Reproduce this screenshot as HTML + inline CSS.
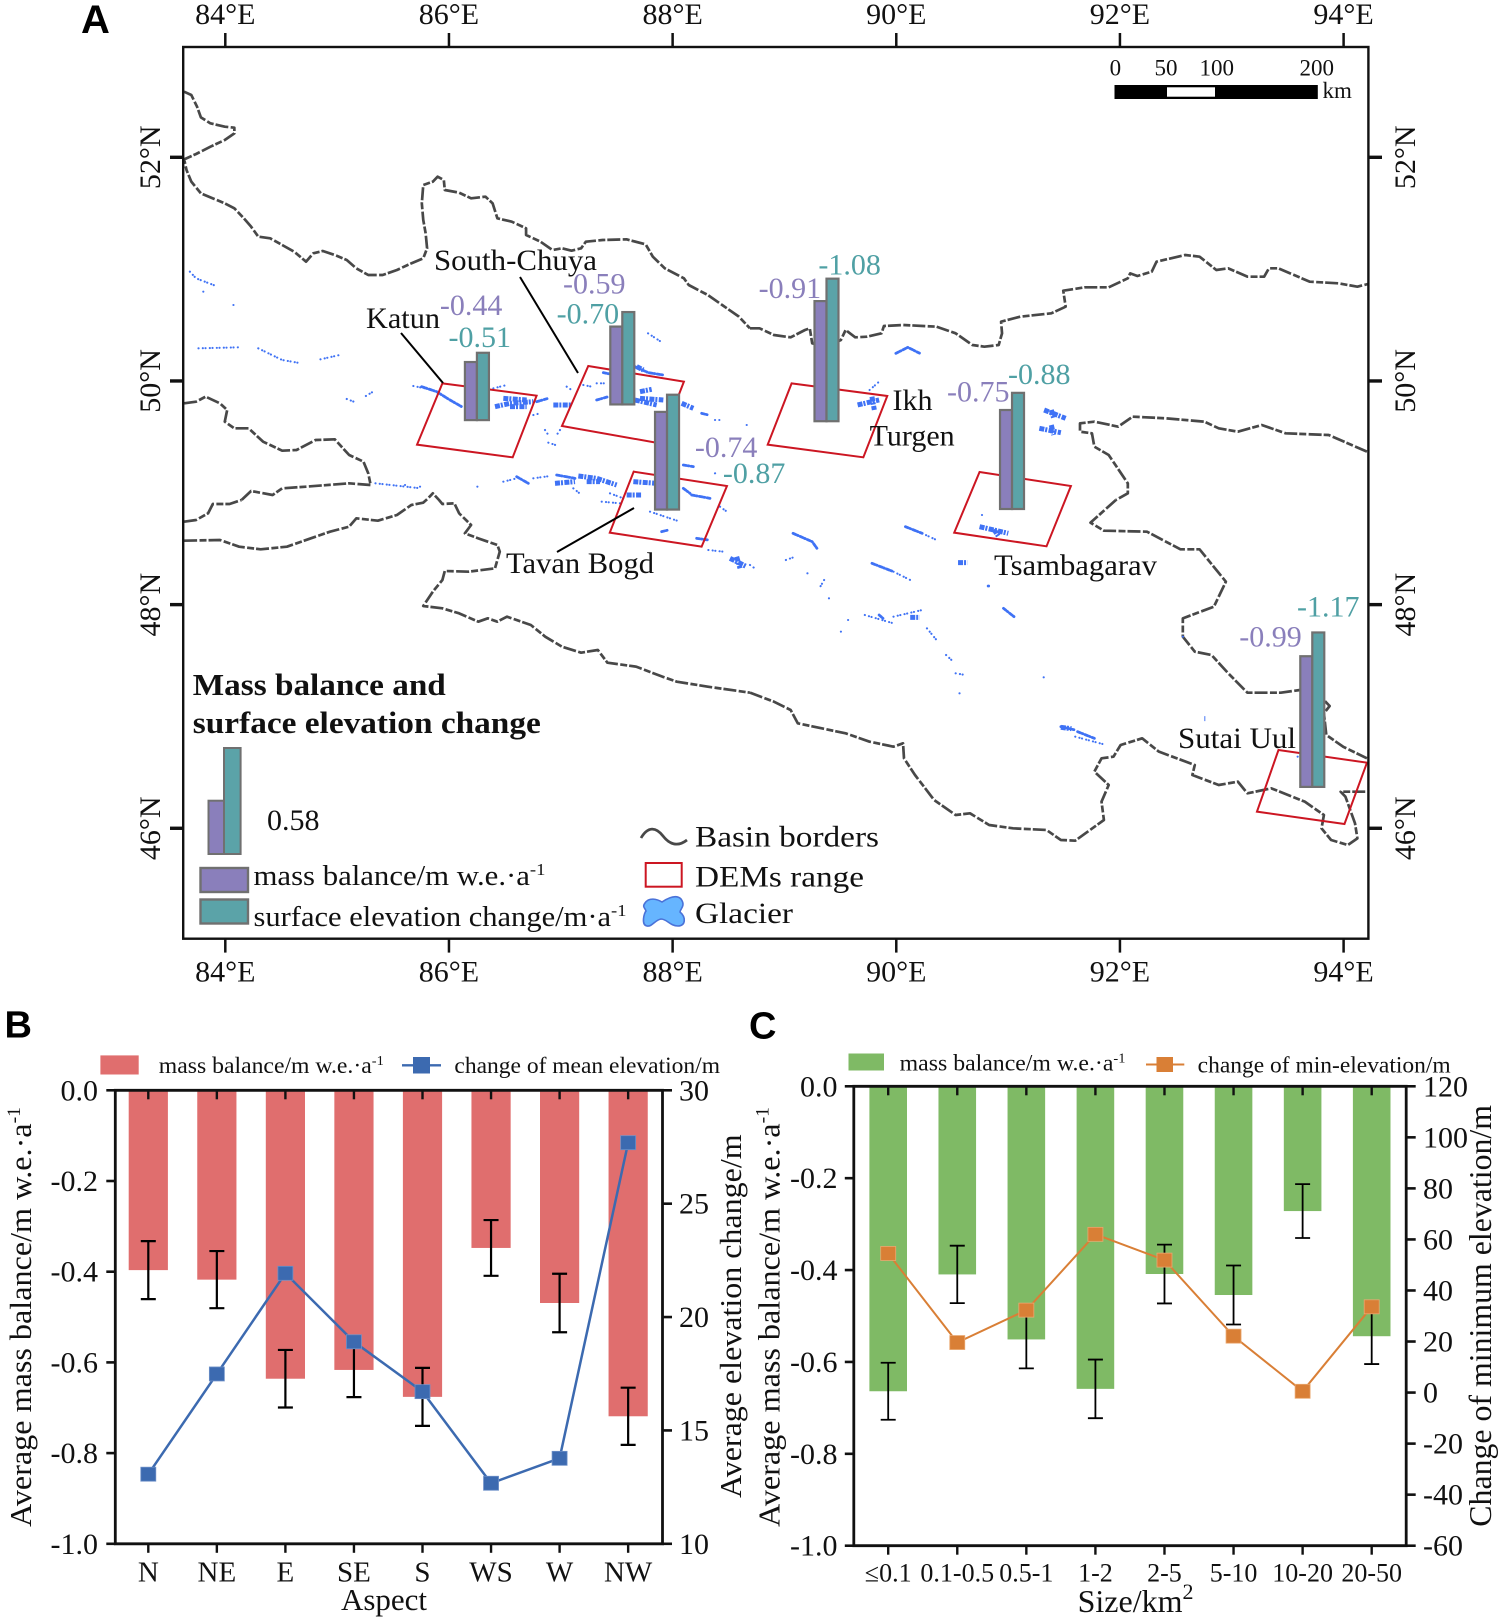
<!DOCTYPE html>
<html lang="en">
<head>
<meta charset="utf-8">
<title>Glacier mass balance and surface elevation change</title>
<style>
html,body{margin:0;padding:0;background:#fff;}
svg{display:block;}
text{font-family:"Liberation Serif",serif;fill:#111;}
.lbl{font-family:"Liberation Sans",sans-serif;font-weight:bold;font-size:40px;fill:#000;}
.border{fill:none;stroke:#484848;stroke-width:2.7;stroke-dasharray:13 2.4 7 2;vector-effect:non-scaling-stroke;stroke-linejoin:round;}
.gd{fill:none;stroke:#3f72f5;stroke-width:2.1;stroke-dasharray:0.1 4.2 0.1 2.6;stroke-linecap:round;vector-effect:non-scaling-stroke;}
.gt{fill:none;stroke:#3f72f5;stroke-width:2.8;stroke-dasharray:3 1.6 1 2.2;stroke-linecap:round;stroke-linejoin:round;vector-effect:non-scaling-stroke;}
.gb{fill:none;stroke:#3f72f5;stroke-width:5;stroke-dasharray:5 1 2 1.4;stroke-linejoin:round;vector-effect:non-scaling-stroke;}
.quad{fill:none;stroke:#cc1622;stroke-width:2;vector-effect:non-scaling-stroke;}
.lead{stroke:#000;stroke-width:2;fill:none;vector-effect:non-scaling-stroke;}
</style>
</head>
<body>
<svg id="fig" xmlns="http://www.w3.org/2000/svg" width="1500" height="1621" viewBox="0 0 1500 1621">
<rect width="1500" height="1621" fill="#fff"/>

<g id="panel-a">
<text class="lbl" x="81" y="33">A</text>

<!-- Basin borders, upper-left tile -->
<g transform="scale(.47826,.33333)">
<polyline class="border" points="385,275 400,285 412,320 420,352 440,370 470,380 490,383 490,400 470,420 440,440 410,462 385,478 390,510 400,545 420,580 445,595 470,610 490,625 510,655 525,680 540,710 565,715 590,735 615,755 640,785 655,760 675,753 700,765 725,780 745,805 770,825 800,825 830,810 860,790 885,775 893,745 890,700 885,660 882,610 885,555 905,545 915,530 928,540 930,570 960,578 985,595 1015,590 1030,610 1040,655 1070,665 1100,685 1100,705 1130,725 1155,750 1175,745 1195,752 1215,745 1225,725 1260,720 1310,718 1350,733 1365,770 1390,805 1430,835 1440,855 1480,885 1510,915 1545,950 1568,985"/>
<polyline class="border" points="385,1210 410,1205 430,1190 460,1210 475,1230 470,1265 490,1285 520,1285 550,1325 590,1352 620,1350 660,1320 700,1318 730,1365 760,1385 770,1420 775,1455 730,1450 640,1460 590,1465 570,1485 525,1473 505,1500"/>
</g>
<!-- Basin borders, upper-right tile -->
<g transform="translate(750,0) scale(.47826,.33333)">
<polyline class="border" points="0,985 20,985 50,1005 85,1012 115,990 125,985 130,1030 160,1040 190,1020 200,990 220,1012 245,1010 275,1000 280,978 320,975 390,980 430,1000 465,1035 490,1040 520,1035 527,1000 525,965 565,950 630,940 660,920 655,872 700,862 750,862 790,835 795,820 810,828 840,815 850,785 910,765 940,770 975,810 1000,805 1040,830 1075,830 1085,805 1105,805 1170,845 1230,850 1270,860 1292,852"/>
<polyline class="border" points="1290,1355 1210,1305 1120,1300 1070,1275 1020,1295 980,1285 950,1265 870,1255 800,1250 770,1280 720,1265 690,1270 690,1295 715,1300 720,1340 750,1365 790,1450 790,1480 765,1500"/>
</g>
<!-- Basin borders, lower-left tile -->
<g transform="translate(0,500) scale(.47826,.33333)">
<polyline class="border" points="385,65 410,60 435,40 445,12 480,12 505,0"/>
<polyline class="border" points="385,122 460,120 500,140 545,148 600,140 650,115 690,95 730,80 745,55 790,62 830,45 860,15 885,8 895,-5 905,-20 918,0 925,12 950,10 960,40 985,75 972,100 1000,115 1040,135 1045,155 1035,205 980,215 930,213 925,240 905,275 885,318 925,325 960,340 1000,365 1020,355 1040,365 1060,350 1110,375 1140,410 1175,440 1215,458 1250,450 1270,488 1330,500 1385,530 1415,545 1480,560 1568,578"/>
</g>
<!-- Basin borders, lower-right tile -->
<g transform="translate(750,500) scale(.47826,.33333)">
<polyline class="border" points="0,578 50,605 85,630 100,670 150,685 200,700 250,725 300,740 320,730 322,775 345,825 385,900 430,945 460,940 500,975 550,985 620,990 650,1020 680,1022 740,960 735,905 750,855 720,815 735,775 760,770 775,735 820,715 855,755 930,795 925,825 980,855 1020,845 1040,880 1090,865 1160,905 1200,945 1195,985 1215,1020 1250,1035 1270,1015 1265,970 1245,890 1235,875 1290,875"/>
<polyline class="border" points="765,0 712,68 740,92 830,95 900,148 940,148 995,245 970,320 905,355 905,410 930,455 965,465 1000,520 1040,578 1110,578 1150,570 1200,600 1212,618 1200,640 1205,705 1240,740 1290,775"/>
</g>

<!-- Glaciers -->
<g transform="scale(.47826,.33333)">
<path class="gd" d="M397,815L410,835L450,857M488,915l1,0M425,875l1,0M415,1045L500,1042M540,1045L590,1080L630,1090M670,1078L710,1065M725,1197L745,1208M765,1188L780,1175M1355,1000L1385,1028M785,1450L880,1465"/>
</g>
<g transform="translate(400,350) scale(.33333)">
<path class="gd" d="M40,108L90,118M280,115L320,105M400,195L420,190M435,240L445,255M480,240L470,255M445,278L475,288M500,110L515,120M550,105L575,110M590,100L615,100M945,210L965,210M1040,225L1050,225M310,395L350,385M400,385L450,378M520,415L545,435M605,455L660,460M630,430L670,445M750,485L840,515M925,600L970,605M960,470L985,488M15,405l10,0M60,410l10,0M232,410l1,0M945,370l5,-2"/>
<path class="gt" d="M65,110L110,125L150,150L185,170M410,155L445,145M590,150L625,140M610,68L630,72M705,50L745,68L790,75M905,190L925,195M350,380L385,400M470,375L525,385M850,415L870,430M875,435L930,445M785,545L805,540M890,565L925,570M850,345L880,350"/>
<path class="gb" d="M285,170L330,160L400,155M310,145L380,150M330,170L380,170M460,165L515,165M710,50L730,60M720,125L755,118M705,150L770,165M720,145L790,150M845,160L880,175M465,400L525,395M535,378L590,385L650,405M560,395L600,395M680,435L725,435M700,395L770,400M990,625L1040,650M1010,620L1020,655"/>
</g>
<g transform="translate(750,500) scale(.47826,.33333)">
<path class="gd" d="M0,195L10,205M75,180L95,170M120,220l1,0M155,240L145,265M165,295l1,0M205,360l1,0M190,395l1,0M240,345L300,370M300,350L360,330M370,385L390,420M410,465L425,485M430,520L450,525M438,580l1,0M485,45l1,0M614,532l1,0M905,410l5,0M1145,770l1,0M680,710L745,735M360,100L390,120M300,215L335,240"/>
<path class="gt" d="M90,100L130,125L140,145M325,80L360,100M255,190L300,215M270,345l8,10M530,325L552,350M650,680L680,690M685,695L720,715M498,258l1,0"/>
<path class="gb" d="M480,80L540,100M510,88L520,110M435,188L455,188M335,352L355,352M650,682L672,686M950,656l2,0"/>
</g>
<g transform="translate(750,0) scale(.47826,.33333)">
<path class="gt" d="M305,1060L330,1042L355,1060"/>
<path class="gd" d="M250,1170L270,1145"/>
<path class="gb" d="M225,1215L270,1200M255,1190L260,1230M615,1230L660,1255M630,1230L635,1255M605,1285L650,1298M630,1275L635,1305"/>
</g>

<!-- DEM ranges -->
<g transform="scale(.47826,.33333)">
<polygon class="quad" points="925,1150 1122,1187 1072,1372 872,1334"/>
<polygon class="quad" points="1230,1098 1430,1145 1380,1330 1175,1278"/>
<polygon class="quad" points="1325,1415 1520,1458 1467,1640 1275,1598"/>
</g>
<g transform="translate(750,0) scale(.47826,.33333)">
<polygon class="quad" points="87,1150 287,1188 237,1372 37,1334"/>
<polygon class="quad" points="480,1416 671,1458 620,1639 427,1598"/>
</g>
<g transform="translate(750,500) scale(.47826,.33333)">
<polygon class="quad" points="1105,750 1290,788 1243,972 1060,935"/>
</g>

<!-- Leader lines -->
<line class="lead" x1="401" y1="333" x2="443" y2="383"/>
<line class="lead" x1="520" y1="277" x2="578" y2="373"/>
<line class="lead" x1="634" y1="508" x2="557" y2="552"/>

<!-- Map frame -->
<rect x="183.2" y="47" width="1185.2" height="891.7" fill="none" stroke="#111" stroke-width="2.4"/>
<g id="map-axes"></g>
<g id="map-bars"></g>

<!-- Region labels -->
<text x="366" y="328" font-size="30" textLength="74" lengthAdjust="spacingAndGlyphs">Katun</text>
<text x="434" y="270" font-size="30" textLength="163" lengthAdjust="spacingAndGlyphs">South-Chuya</text>
<text x="892.5" y="410" font-size="30">Ikh</text>
<text x="869.6" y="445.7" font-size="30">Turgen</text>
<text x="506" y="573" font-size="30" textLength="148" lengthAdjust="spacingAndGlyphs">Tavan Bogd</text>
<text x="994" y="575" font-size="30" textLength="163" lengthAdjust="spacingAndGlyphs">Tsambagarav</text>
<text x="1178" y="748" font-size="30" textLength="118" lengthAdjust="spacingAndGlyphs">Sutai Uul</text>

<!-- Scale bar -->
<g>
<rect x="1114.5" y="85" width="203.3" height="14" fill="#000"/>
<rect x="1167" y="87.3" width="48" height="9.4" fill="#fff"/>
<text x="1115.4" y="75.3" font-size="23" text-anchor="middle">0</text>
<text x="1166" y="75.3" font-size="23" text-anchor="middle">50</text>
<text x="1216.8" y="75.3" font-size="23" text-anchor="middle">100</text>
<text x="1316.8" y="75.3" font-size="23" text-anchor="middle">200</text>
<text x="1322.5" y="98" font-size="23">km</text>
</g>

<!-- Map legend -->
<g>
<text x="192.8" y="695" font-size="31" font-weight="bold" textLength="253" lengthAdjust="spacingAndGlyphs">Mass balance and</text>
<text x="192.8" y="733" font-size="31" font-weight="bold" textLength="348" lengthAdjust="spacingAndGlyphs">surface elevation change</text>
<rect x="208.5" y="800.7" width="15.5" height="53.3" fill="#8a7fbb" stroke="#707070" stroke-width="2"/>
<rect x="224" y="748" width="16.6" height="106" fill="#5ba3a8" stroke="#707070" stroke-width="2"/>
<text x="267" y="830" font-size="30">0.58</text>
<rect x="200.5" y="868" width="47.5" height="24" fill="#8a7fbb" stroke="#707070" stroke-width="2.4"/>
<rect x="200.5" y="899.5" width="47.5" height="24" fill="#5ba3a8" stroke="#707070" stroke-width="2.4"/>
<text x="253.5" y="885" font-size="28" textLength="292" lengthAdjust="spacingAndGlyphs">mass balance/m w.e.·a<tspan dy="-10" font-size="17">-1</tspan></text>
<text x="253.5" y="926" font-size="28" textLength="373" lengthAdjust="spacingAndGlyphs">surface elevation change/m·a<tspan dy="-10" font-size="17">-1</tspan></text>
<path d="M641,838 C648,826 656,827 663,836 C670,845 678,847 687,840" fill="none" stroke="#484848" stroke-width="2.7"/>
<text x="695" y="846.7" font-size="30" textLength="184" lengthAdjust="spacingAndGlyphs">Basin borders</text>
<rect x="645.7" y="863" width="36" height="23.7" fill="none" stroke="#cc1622" stroke-width="2"/>
<text x="695" y="886.7" font-size="30" textLength="169" lengthAdjust="spacingAndGlyphs">DEMs range</text>
<path d="M645,903 C649,897 657,899 662,902 C668,898 676,894 681,899 C686,906 680,909 680,912 C686,917 686,926 678,926 C670,926 667,919 661,919 C655,920 652,927 647,926 C641,925 644,913 646,911 C645,908 642,907 645,903 Z" fill="#66b5ff" stroke="#4a72d8" stroke-width="1.6"/>
<text x="695" y="923" font-size="30" textLength="98" lengthAdjust="spacingAndGlyphs">Glacier</text>
</g>
</g>

<!-- Panel B -->
<g id="panel-b">
<text class="lbl" x="4.5" y="1037.6" style="font-size:38px">B</text>
<rect x="100.4" y="1055.4" width="38.3" height="19.1" fill="#e06e6e"/>
<text x="158.8" y="1073" font-size="23" textLength="225" lengthAdjust="spacingAndGlyphs">mass balance/m w.e.·a<tspan dy="-8" font-size="14">-1</tspan></text>
<line x1="402" y1="1065.3" x2="441" y2="1065.3" stroke="#3c6ab0" stroke-width="2.4"/>
<rect x="413" y="1057" width="17" height="16.5" fill="#3c6ab0"/>
<text x="454.4" y="1073" font-size="23" textLength="265.6" lengthAdjust="spacingAndGlyphs">change of mean elevation/m</text>
<text transform="translate(31,1527) rotate(-90)" font-size="31" textLength="420" lengthAdjust="spacingAndGlyphs">Average mass balance/m w.e.·a<tspan dy="-11" font-size="19">-1</tspan></text>
<text transform="translate(741,1498) rotate(-90)" font-size="31" textLength="363.6" lengthAdjust="spacingAndGlyphs">Average elevation change/m</text>
<text x="384" y="1610" font-size="31" text-anchor="middle">Aspect</text>
</g>

<!-- Panel C -->
<g id="panel-c">
<text class="lbl" x="749" y="1038.4" style="font-size:38px">C</text>
<rect x="848.5" y="1053.5" width="35.5" height="17" fill="#7fba65"/>
<text x="899.7" y="1070.5" font-size="23" textLength="225.8" lengthAdjust="spacingAndGlyphs">mass balance/m w.e.·a<tspan dy="-8" font-size="14">-1</tspan></text>
<line x1="1146" y1="1064.5" x2="1184.3" y2="1064.5" stroke="#d97f36" stroke-width="2"/>
<rect x="1156.5" y="1057" width="16.5" height="15" fill="#d97f36"/>
<text x="1197.7" y="1072.5" font-size="23" textLength="253" lengthAdjust="spacingAndGlyphs">change of min-elevation/m</text>
<text transform="translate(779.7,1527) rotate(-90)" font-size="31" textLength="420" lengthAdjust="spacingAndGlyphs">Average mass balance/m w.e.·a<tspan dy="-11" font-size="19">-1</tspan></text>
<text transform="translate(1491,1526.7) rotate(-90)" font-size="32" textLength="421.7" lengthAdjust="spacingAndGlyphs">Change of minimum elevation/m</text>
<text x="1077.6" y="1612" font-size="32">Size/km<tspan dy="-13" font-size="22">2</tspan></text>
</g>
</svg>

<script>
// ---------- Panel A data ----------
const mapLonTicks = [84, 86, 88, 90, 92, 94];
const mapLatTicks = [52, 50, 48, 46];
const regionNames = ['Katun', 'South-Chuya', 'Tavan Bogd', 'Ikh Turgen', 'Tsambagarav', 'Sutai Uul'];
const regionLon = [86.25, 87.55, 87.95, 89.376, 91.035, 93.72];
const regionLat = [49.65, 49.79, 48.85, 49.64, 48.855, 46.37];
const regionMassBalance = [-0.44, -0.59, -0.74, -0.91, -0.75, -0.99];
const regionElevationChange = [-0.51, -0.70, -0.87, -1.08, -0.88, -1.17];

// ---------- Panel B data ----------
const aspectCategories = ['N', 'NE', 'E', 'SE', 'S', 'WS', 'W', 'NW'];
const aspectMassBalance = [-0.3965, -0.4175, -0.636, -0.6166, -0.676, -0.3476, -0.469, -0.7188];
const aspectMassError = [0.064, 0.063, 0.0635, 0.06, 0.064, 0.0615, 0.0645, 0.063];
const aspectElevationChange = [13.07, 17.49, 21.93, 18.91, 16.71, 12.67, 13.77, 27.69];
const aspectLeftTicks = [0, -0.2, -0.4, -0.6, -0.8, -1.0];
const aspectRightTicks = [30, 25, 20, 15, 10];

// ---------- Panel C data ----------
const sizeCategories = ['≤0.1', '0.1-0.5', '0.5-1', '1-2', '2-5', '5-10', '10-20', '20-50'];
const sizeMassBalance = [-0.6638, -0.4095, -0.551, -0.6586, -0.4086, -0.4543, -0.2716, -0.544];
const sizeMassError = [0.062, 0.0625, 0.063, 0.0638, 0.064, 0.0642, 0.0586, 0.0606];
const sizeMinElevation = [54.5, 19.6, 32.3, 62, 51.9, 22.1, 0.5, 33.6];
const sizeLeftTicks = [0, -0.2, -0.4, -0.6, -0.8, -1.0];
const sizeRightTicks = [120, 100, 80, 60, 40, 20, 0, -20, -40, -60];

const NS = 'http://www.w3.org/2000/svg';
function mk(tag, attrs, parent) {
  const el = document.createElementNS(NS, tag);
  for (const k in attrs) el.setAttribute(k, attrs[k]);
  parent.appendChild(el);
  return el;
}

// ---------- Map axis functions ----------
function mapX(lon) { return 225.3 + (lon - 84) * 111.83; }
function mapY(lat) { return 157.3 + (52 - lat) * 111.83; }
function mapBarHeight(v) { return Math.abs(v) * 132; }

const mapAxes = document.getElementById('map-axes');
mapLonTicks.forEach(function (lon) {
  const x = mapX(lon);
  const t1 = mk('line', {x1: x, x2: x, y1: 33, y2: 47, stroke: '#111', 'stroke-width': 2.5}, mapAxes);
  
  
  const t2 = mk('line', {x1: x, x2: x, y1: 939, y2: 952.6, stroke: '#111', 'stroke-width': 2.5}, mapAxes);
  
  
  const l1 = mk('text', {x: x, y: 24, 'font-size': 30, 'text-anchor': 'middle'}, mapAxes);
  l1.textContent = lon + '°E';
  
  
  const l2 = mk('text', {x: x, y: 981.7, 'font-size': 30, 'text-anchor': 'middle'}, mapAxes);
  l2.textContent = lon + '°E';
  
  
});
mapLatTicks.forEach(function (lat) {
  const y = mapY(lat);
  const t1 = mk('line', {x1: 170, x2: 183, y1: y, y2: y, stroke: '#111', 'stroke-width': 3.4}, mapAxes);
  
  
  const t2 = mk('line', {x1: 1368, x2: 1382, y1: y, y2: y, stroke: '#111', 'stroke-width': 3.4}, mapAxes);
  
  
  const l1 = mk('text', {transform: 'translate(160,' + y + ') rotate(-90)', 'font-size': 30, 'text-anchor': 'middle'}, mapAxes);
  l1.textContent = lat + '°N';
  
  
  const l2 = mk('text', {transform: 'translate(1415,' + y + ') rotate(-90)', 'font-size': 30, 'text-anchor': 'middle'}, mapAxes);
  l2.textContent = lat + '°N';
  
  
});

// Value-label offsets relative to each bar top (layout only)
const massLabelOffset = [[-37, -46.9], [-59.3, -33.1], [27.8, 45.1], [-67.9, -2.9], [-65, -8.3], [-73, -9.9]];
const elevLabelOffset = [[-28.4, -5.7], [-65.7, 11.4], [55.8, 88.5], [-8.1, -4.4], [-4, -8.8], [-15.3, -15.9]];
const mapBars = document.getElementById('map-bars');
regionNames.forEach(function (name, i) {
  const sx = mapX(regionLon[i]);
  const base = mapY(regionLat[i]);
  const hm = mapBarHeight(regionMassBalance[i]);
  const he = mapBarHeight(regionElevationChange[i]);
  const m = mk('rect', {x: sx - 12, y: base - hm, width: 12, height: hm, fill: '#8a7fbb', stroke: '#707070', 'stroke-width': 2.2}, mapBars);
  
  
  const e = mk('rect', {x: sx, y: base - he, width: 12, height: he, fill: '#5ba3a8', stroke: '#707070', 'stroke-width': 2.2}, mapBars);
  
  
  const ml = mk('text', {x: sx + massLabelOffset[i][0], y: base - hm + massLabelOffset[i][1], 'font-size': 30, style: 'fill:#8a7fbb'}, mapBars);
  ml.textContent = regionMassBalance[i].toFixed(2);
  
  
  const el = mk('text', {x: sx + elevLabelOffset[i][0], y: base - he + elevLabelOffset[i][1], 'font-size': 30, style: 'fill:#4fa0a4'}, mapBars);
  el.textContent = regionElevationChange[i].toFixed(2);
  
  
});

// ---------- Combo chart drawing ----------
function drawCombo(root, box, rightMin, rightMax, leftTicks, rightTicks, cats, massVals, errs, lineVals, style) {
  const xPos = function (i) { return box.x0 + box.step * i; };
  const yLeft = function (v) { return box.top + (-v) * (box.bottom - box.top); };
  const yRight = function (v) { return box.bottom - (v - rightMin) / (rightMax - rightMin) * (box.bottom - box.top); };

  cats.forEach(function (c, i) {
    const top = yLeft(0);
    const r = mk('rect', {x: xPos(i) - box.barW / 2, y: top, width: box.barW, height: yLeft(massVals[i]) - top, fill: style.bar}, root);
    
    
  });

  const frame = mk('path', {d: 'M' + box.left + ',' + box.top + 'H' + box.right + 'V' + box.bottom + 'H' + box.left + 'Z', fill: 'none', stroke: '#111', 'stroke-width': 2.8}, root);
  
  

  leftTicks.forEach(function (v) {
    const y = yLeft(v);
    const t = mk('line', {x1: box.left - 9, x2: box.left, y1: y, y2: y, stroke: '#111', 'stroke-width': 2.6}, root);
    
    
    const l = mk('text', {x: box.leftLabelX, y: y + 10, 'font-size': 30, 'text-anchor': 'end'}, root);
    l.textContent = v.toFixed(1);
    
    
  });
  rightTicks.forEach(function (v) {
    const y = yRight(v);
    const t = mk('line', {x1: box.right, x2: box.right + 9.5, y1: y, y2: y, stroke: '#111', 'stroke-width': 2.6}, root);
    
    
    const l = mk('text', {x: box.rightLabelX, y: y + 10, 'font-size': 30}, root);
    l.textContent = String(v);
    
    
  });
  cats.forEach(function (c, i) {
    const x = xPos(i);
    const t1 = mk('line', {x1: x, x2: x, y1: box.top, y2: box.top + 9, stroke: '#111', 'stroke-width': 2.4}, root);
    
    
    const t2 = mk('line', {x1: x, x2: x, y1: box.bottom, y2: box.bottom + 9, stroke: '#111', 'stroke-width': 2.4}, root);
    
    
    const l = mk('text', {x: x, y: 1581.4, 'font-size': box.catFont, 'text-anchor': 'middle'}, root);
    l.textContent = c;
    
    

    const y1 = yLeft(massVals[i] + errs[i]);
    const y2 = yLeft(massVals[i] - errs[i]);
    const eb = mk('path', {d: 'M' + x + ',' + y1 + 'V' + y2 + 'M' + (x - 7.5) + ',' + y1 + 'h15M' + (x - 7.5) + ',' + y2 + 'h15', fill: 'none', stroke: '#000', 'stroke-width': box.errW}, root);
    
    
  });

  const pts = lineVals.map(function (v, i) { return xPos(i) + ',' + yRight(v); }).join(' ');
  const line = mk('polyline', {points: pts, fill: 'none', stroke: style.line, 'stroke-width': box.lineW}, root);
  
  
  lineVals.forEach(function (v, i) {
    const p = mk('rect', {x: xPos(i) - 7.5, y: yRight(v) - 7, width: 15, height: 14, fill: style.line, stroke: style.edge, 'stroke-width': 0.8}, root);
    
    
  });
}

drawCombo(document.getElementById('panel-b'),
  {left: 115.3, right: 662.5, top: 1090.3, bottom: 1543.8, x0: 148.3, step: 68.55, barW: 39.2, leftLabelX: 98, rightLabelX: 679, catFont: 29, errW: 2.2, lineW: 2.5},
  10, 30, aspectLeftTicks, aspectRightTicks, aspectCategories, aspectMassBalance, aspectMassError, aspectElevationChange,
  {bar: '#e06e6e', line: '#3c6ab0', edge: '#6d90c8'});

drawCombo(document.getElementById('panel-c'),
  {left: 853.8, right: 1406.2, top: 1086.3, bottom: 1545.7, x0: 888.2, step: 69.07, barW: 37.6, leftLabelX: 837.5, rightLabelX: 1423, catFont: 26, errW: 1.8, lineW: 2},
  -60, 120, sizeLeftTicks, sizeRightTicks, sizeCategories, sizeMassBalance, sizeMassError, sizeMinElevation,
  {bar: '#7fba65', line: '#d97f36', edge: '#eaa870'});
</script>
</body>
</html>
